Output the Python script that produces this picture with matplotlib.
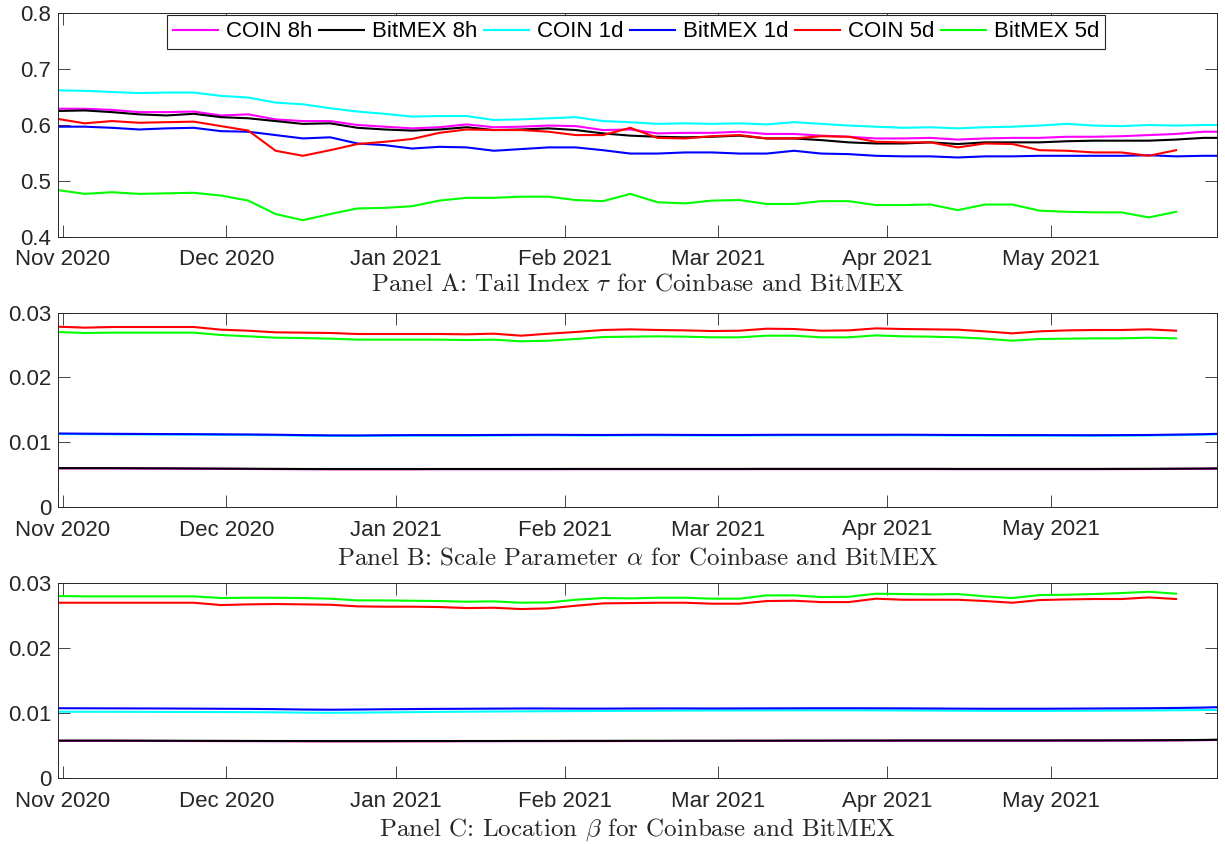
import numpy as np
import pandas as pd
import matplotlib
matplotlib.use('Agg')
import matplotlib.pyplot as plt

plt.rcParams['font.family'] = ['Liberation Sans', 'DejaVu Sans']
plt.rcParams['mathtext.fontset'] = 'cm'

# ---------------- data ----------------
dates_daily = list(pd.date_range('2020-10-31', periods=43, freq='5D')) + [pd.Timestamp('2021-05-31 12:00')]
dates_5d = pd.date_range('2020-10-31', periods=42, freq='5D')

series_labels = ['COIN 8h', 'BitMEX 8h', 'COIN 1d', 'BitMEX 1d', 'COIN 5d', 'BitMEX 5d']
series_colors = ['#ff00ff', '#000000', '#00ffff', '#0000ff', '#ff0000', '#00ff00']

month_ticks = pd.date_range('2020-11-01', periods=7, freq='MS')
month_labels = ['Nov 2020', 'Dec 2020', 'Jan 2021', 'Feb 2021', 'Mar 2021', 'Apr 2021', 'May 2021']

# Panel A: tail index tau
coin8h_tau = [0.629, 0.629, 0.627, 0.623, 0.623, 0.624, 0.617, 0.619, 0.610, 0.607, 0.607,
              0.600, 0.597, 0.594, 0.596, 0.601, 0.596, 0.597, 0.599, 0.598, 0.591, 0.592,
              0.585, 0.586, 0.586, 0.588, 0.584, 0.584, 0.581, 0.579, 0.576, 0.576, 0.577,
              0.574, 0.576, 0.577, 0.577, 0.579, 0.579, 0.580, 0.582, 0.584, 0.588, 0.588]
bitmex8h_tau = [0.625, 0.626, 0.623, 0.619, 0.617, 0.620, 0.614, 0.612, 0.607, 0.602, 0.603,
                0.595, 0.592, 0.590, 0.592, 0.596, 0.591, 0.592, 0.594, 0.591, 0.585, 0.581,
                0.579, 0.578, 0.579, 0.581, 0.576, 0.576, 0.573, 0.569, 0.567, 0.567, 0.569,
                0.566, 0.569, 0.569, 0.569, 0.571, 0.572, 0.572, 0.572, 0.574, 0.577, 0.577]
coin1d_tau = [0.662, 0.661, 0.659, 0.657, 0.658, 0.658, 0.652, 0.649, 0.640, 0.637, 0.630,
              0.624, 0.620, 0.615, 0.616, 0.616, 0.609, 0.610, 0.612, 0.614, 0.607, 0.605,
              0.602, 0.603, 0.602, 0.603, 0.601, 0.605, 0.602, 0.599, 0.597, 0.595, 0.596,
              0.594, 0.596, 0.597, 0.599, 0.602, 0.599, 0.598, 0.600, 0.599, 0.600, 0.600]
bitmex1d_tau = [0.597, 0.597, 0.595, 0.592, 0.594, 0.595, 0.589, 0.588, 0.582, 0.576, 0.578,
                0.567, 0.564, 0.558, 0.561, 0.560, 0.554, 0.557, 0.560, 0.560, 0.555, 0.549,
                0.549, 0.551, 0.551, 0.549, 0.549, 0.554, 0.549, 0.548, 0.545, 0.544, 0.544,
                0.542, 0.544, 0.544, 0.545, 0.545, 0.545, 0.545, 0.546, 0.544, 0.545, 0.545]
coin5d_tau = [0.611, 0.603, 0.607, 0.604, 0.605, 0.606, 0.598, 0.590, 0.554, 0.545, 0.555,
              0.566, 0.570, 0.575, 0.586, 0.592, 0.591, 0.591, 0.588, 0.582, 0.582, 0.595,
              0.577, 0.576, 0.580, 0.582, 0.576, 0.576, 0.580, 0.579, 0.570, 0.569, 0.569,
              0.560, 0.567, 0.566, 0.555, 0.554, 0.551, 0.551, 0.545, 0.555]
bitmex5d_tau = [0.484, 0.477, 0.480, 0.477, 0.478, 0.479, 0.474, 0.465, 0.441, 0.430, 0.441,
                0.451, 0.452, 0.455, 0.465, 0.470, 0.470, 0.472, 0.472, 0.466, 0.464, 0.477,
                0.462, 0.460, 0.465, 0.466, 0.459, 0.459, 0.464, 0.464, 0.457, 0.457, 0.458,
                0.448, 0.458, 0.458, 0.447, 0.445, 0.444, 0.444, 0.435, 0.445]

# Panel B: scale parameter alpha
coin8h_alpha = [.00596, .00596, .00596, .00594, .00593, .00591, .00589, .00587, .00585, .00583, .00582,
                .00582, .00582, .00582, .00583, .00583, .00583, .00583, .00583, .00584, .00584, .00584,
                .00584, .00584, .00584, .00584, .00585, .00585, .00585, .00585, .00585, .00585, .00585,
                .00584, .00584, .00584, .00584, .00584, .00584, .00585, .00586, .00588, .00590, .00592]
bitmex8h_alpha = [.00600, .00600, .00600, .00598, .00597, .00595, .00593, .00591, .00589, .00587, .00586,
                  .00586, .00586, .00586, .00587, .00587, .00587, .00587, .00587, .00588, .00588, .00588,
                  .00588, .00588, .00588, .00588, .00589, .00589, .00589, .00589, .00589, .00589, .00589,
                  .00588, .00588, .00588, .00588, .00588, .00588, .00589, .00590, .00592, .00594, .00596]
coin1d_alpha = [.01127, .01124, .01122, .01120, .01118, .01117, .01114, .01112, .01108, .01102, .01098,
                .01097, .01100, .01102, .01102, .01102, .01104, .01106, .01107, .01105, .01104, .01106,
                .01107, .01105, .01104, .01104, .01106, .01107, .01107, .01107, .01107, .01108, .01106,
                .01104, .01103, .01102, .01102, .01101, .01100, .01102, .01104, .01110, .01116, .01122]
bitmex1d_alpha = [.01135, .01132, .01130, .01128, .01126, .01125, .01122, .01120, .01116, .01110, .01106,
                  .01105, .01108, .01110, .01110, .01110, .01112, .01114, .01115, .01113, .01112, .01114,
                  .01115, .01113, .01112, .01112, .01114, .01115, .01115, .01115, .01115, .01116, .01114,
                  .01112, .01111, .01110, .01110, .01109, .01108, .01110, .01112, .01118, .01124, .01130]
coin5d_alpha = [.02784, .02769, .02779, .02779, .02779, .02779, .02738, .02722, .02697, .02692, .02687,
                .02671, .02671, .02671, .02671, .02666, .02676, .02645, .02676, .02702, .02733, .02743,
                .02733, .02727, .02717, .02722, .02753, .02748, .02722, .02727, .02758, .02748, .02743,
                .02738, .02712, .02681, .02712, .02727, .02733, .02733, .02743, .02722]
bitmex5d_alpha = [.02702, .02687, .02692, .02692, .02692, .02692, .02656, .02635, .02614, .02609, .02599,
                  .02584, .02584, .02584, .02584, .02578, .02584, .02558, .02568, .02594, .02625, .02630,
                  .02635, .02630, .02620, .02620, .02645, .02645, .02620, .02620, .02650, .02635, .02630,
                  .02620, .02599, .02568, .02594, .02599, .02604, .02604, .02614, .02604]

# Panel C: location beta
coin8h_beta = [.00576, .00576, .00576, .00575, .00574, .00573, .00572, .00571, .00570, .00569, .00568,
               .00568, .00568, .00569, .00569, .00570, .00570, .00571, .00571, .00572, .00572, .00573,
               .00573, .00574, .00574, .00575, .00575, .00576, .00576, .00577, .00577, .00578, .00578,
               .00578, .00578, .00578, .00578, .00579, .00579, .00580, .00581, .00583, .00586, .00590]
bitmex8h_beta = [.00580, .00580, .00580, .00579, .00578, .00577, .00576, .00575, .00574, .00573, .00572,
                 .00572, .00572, .00573, .00573, .00574, .00574, .00575, .00575, .00576, .00576, .00577,
                 .00577, .00578, .00578, .00579, .00579, .00580, .00580, .00581, .00581, .00582, .00582,
                 .00582, .00582, .00582, .00582, .00583, .00583, .00584, .00585, .00587, .00590, .00594]
coin1d_beta = [.01024, .01024, .01023, .01022, .01021, .01020, .01019, .01018, .01015, .01010, .01008,
               .01010, .01014, .01018, .01022, .01025, .01028, .01030, .01032, .01034, .01036, .01038,
               .01040, .01042, .01043, .01044, .01045, .01046, .01046, .01046, .01045, .01044, .01042,
               .01040, .01038, .01037, .01037, .01038, .01040, .01042, .01044, .01047, .01050, .01052]
bitmex1d_beta = [.01078, .01077, .01076, .01075, .01074, .01072, .01070, .01068, .01064, .01058, .01055,
                 .01058, .01062, .01065, .01068, .01070, .01072, .01074, .01074, .01072, .01072, .01074,
                 .01075, .01075, .01074, .01075, .01076, .01077, .01078, .01078, .01077, .01076, .01074,
                 .01072, .01070, .01070, .01070, .01072, .01074, .01076, .01078, .01082, .01088, .01094]
coin5d_beta = [.02701, .02701, .02701, .02701, .02701, .02701, .02665, .02676, .02681, .02676, .02670,
               .02645, .02640, .02640, .02635, .02619, .02624, .02604, .02614, .02655, .02691, .02696,
               .02701, .02701, .02686, .02686, .02727, .02732, .02711, .02711, .02763, .02747, .02747,
               .02747, .02727, .02701, .02742, .02752, .02758, .02758, .02783, .02758]
bitmex5d_beta = [.02804, .02799, .02799, .02799, .02799, .02799, .02773, .02778, .02778, .02773, .02763,
                 .02737, .02737, .02732, .02727, .02717, .02722, .02701, .02706, .02747, .02773, .02768,
                 .02778, .02778, .02763, .02763, .02814, .02814, .02788, .02793, .02840, .02835, .02829,
                 .02835, .02799, .02773, .02819, .02824, .02835, .02850, .02870, .02840]

yticks_A = [0.4, 0.5, 0.6, 0.7, 0.8]
yticklabels_A = ['0.4', '0.5', '0.6', '0.7', '0.8']
yticks_BC = [0, 0.01, 0.02, 0.03]
yticklabels_BC = ['0', '0.01', '0.02', '0.03']

panel_titles = [r'Panel A: Tail Index $\tau$ for Coinbase and BitMEX',
                r'Panel B: Scale Parameter $\alpha$ for Coinbase and BitMEX',
                r'Panel C: Location $\beta$ for Coinbase and BitMEX']

panels = [
    ([coin8h_tau, bitmex8h_tau, coin1d_tau, bitmex1d_tau, coin5d_tau, bitmex5d_tau], (0.4, 0.8), yticks_A, yticklabels_A),
    ([coin8h_alpha, bitmex8h_alpha, coin1d_alpha, bitmex1d_alpha, coin5d_alpha, bitmex5d_alpha], (0, 0.03), yticks_BC, yticklabels_BC),
    ([coin8h_beta, bitmex8h_beta, coin1d_beta, bitmex1d_beta, coin5d_beta, bitmex5d_beta], (0, 0.03), yticks_BC, yticklabels_BC),
]

# ---------------- layout ----------------
W, H = 1225, 844
fig = plt.figure(figsize=(W / 100, H / 100), dpi=100)
left_px, right_px = 58, 1217
rects_px = [(13, 237), (312.7, 507), (583.3, 778.3)]   # top, bottom
title_base_px = [290.5, 564.3, 835.3]
axc = '#262626'
fs = 16

for (series, ylim, yt, ytl), (top, bot), title, tb in zip(panels, rects_px, panel_titles, title_base_px):
    ax = fig.add_axes([left_px / W, 1 - bot / H, (right_px - left_px) / W, (bot - top) / H])
    for i, (vals, lab, col) in enumerate(zip(series, series_labels, series_colors)):
        x = dates_daily if i < 4 else dates_5d
        ax.plot(x, vals, color=col, lw=1.5, label=lab)
    ax.set_xlim(pd.Timestamp('2020-10-31 03:00'), pd.Timestamp('2021-05-31 12:00'))
    ax.set_ylim(*ylim)
    ax.set_yticks(yt)
    ax.set_yticklabels(ytl)
    ax.set_xticks(month_ticks)
    ax.set_xticklabels(month_labels)
    ax.tick_params(axis='both', direction='in', length=8.5, width=0.6, top=True, right=True,
                   labelsize=fs, colors=axc, labelcolor='#262626')
    ax.tick_params(axis='x', pad=9)
    ax.tick_params(axis='y', pad=5)
    for s in ax.spines.values():
        s.set_color(axc)
        s.set_linewidth(0.7)
    fig.text((left_px + right_px) / 2 / W, 1 - tb / H, title, ha='center', va='baseline',
             fontsize=18, family='cmr10', color='#262626')
    if ylim[1] == 0.8:
        leg = ax.legend(loc='upper center', bbox_to_anchor=(0.4987, 1.0), ncol=6, fontsize=fs,
                        handlelength=2.05, handletextpad=0.33, columnspacing=0.3, borderpad=0.28,
                        borderaxespad=0.1, fancybox=False, framealpha=1, edgecolor=axc)
        leg.get_frame().set_linewidth(0.8)

fig.savefig('out.png', dpi=100)
